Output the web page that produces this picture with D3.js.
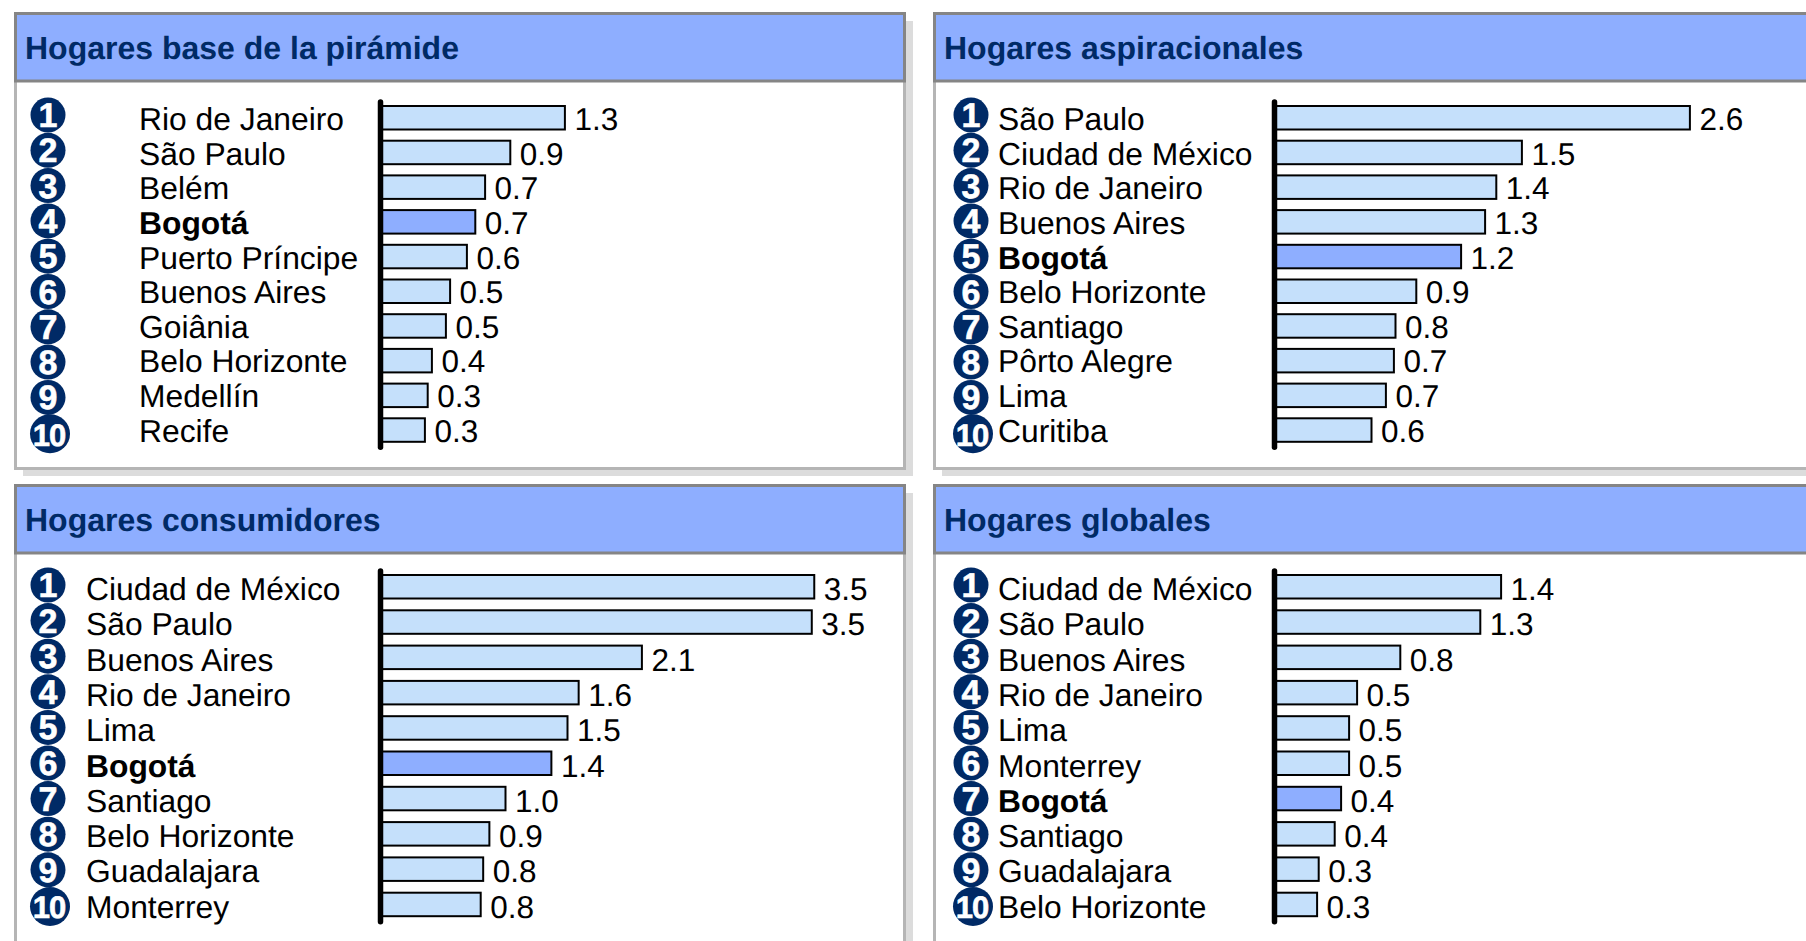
<!DOCTYPE html>
<html><head><meta charset="utf-8">
<script src="https://cdn.jsdelivr.net/npm/d3@7/dist/d3.min.js"></script>
<style>html,body{margin:0;padding:0;background:#fff;overflow:hidden}svg{display:block;font-family:"Liberation Sans",Arial,sans-serif;text-rendering:geometricPrecision}</style>
</head><body><svg id="c" width="1806" height="941"></svg>
<script>
const titleBase="Hogares base de la pirámide", citiesBase=["Rio de Janeiro","São Paulo","Belém","Bogotá","Puerto Príncipe","Buenos Aires","Goiânia","Belo Horizonte","Medellín","Recife"], valuesBase=[1.31,0.92,0.74,0.67,0.61,0.49,0.46,0.36,0.33,0.31];
const titleAsp="Hogares aspiracionales", citiesAsp=["São Paulo","Ciudad de México","Rio de Janeiro","Buenos Aires","Bogotá","Belo Horizonte","Santiago","Pôrto Alegre","Lima","Curitiba"], valuesAsp=[2.59,1.54,1.38,1.31,1.16,0.88,0.75,0.74,0.69,0.60];
const titleCon="Hogares consumidores", citiesCon=["Ciudad de México","São Paulo","Buenos Aires","Rio de Janeiro","Lima","Bogotá","Santiago","Belo Horizonte","Guadalajara","Monterrey"], valuesCon=[3.49,3.47,2.10,1.59,1.50,1.37,1.00,0.87,0.82,0.80];
const titleGlo="Hogares globales", citiesGlo=["Ciudad de México","São Paulo","Buenos Aires","Rio de Janeiro","Lima","Monterrey","Bogotá","Santiago","Guadalajara","Belo Horizonte"], valuesGlo=[1.41,1.28,0.78,0.51,0.46,0.46,0.41,0.37,0.27,0.26];
const highlight="Bogotá";

const layouts=[
 {t:titleBase,c:citiesBase,v:valuesBase,left:14,top:12,w:892,h:458,lx:139,ax:380.5,perUnit:140,rowTop:105,rowStep:34.7,baseTop:130.2,baseStep:34.6,circTop:115,circStep:35.3,cx:48},
 {t:titleAsp,c:citiesAsp,v:valuesAsp,left:933,top:12,w:960,h:458,lx:998,ax:1274.5,perUnit:160,rowTop:105,rowStep:34.7,baseTop:130.2,baseStep:34.6,circTop:115,circStep:35.3,cx:971},
 {t:titleCon,c:citiesCon,v:valuesCon,left:14,top:484,w:892,h:500,lx:86,ax:380.5,perUnit:124,rowTop:574,rowStep:35.3,baseTop:600,baseStep:35.3,circTop:585,circStep:35.6,cx:48},
 {t:titleGlo,c:citiesGlo,v:valuesGlo,left:933,top:484,w:960,h:500,lx:998,ax:1274.5,perUnit:160,rowTop:574,rowStep:35.3,baseTop:600,baseStep:35.3,circTop:585,circStep:35.6,cx:971}
];
const svg=d3.select("#c");
layouts.forEach(p=>{
 const g=svg.append("g");
 g.append("rect").attr("x",p.left+9).attr("y",p.top+9).attr("width",p.w-2).attr("height",p.h-3).attr("fill","#dcdcdc");
 g.append("rect").attr("x",p.left+1.5).attr("y",p.top+1.5).attr("width",p.w-3).attr("height",p.h-3).attr("fill","#fff").attr("stroke","#b5b5b5").attr("stroke-width",3);
 g.append("rect").attr("x",p.left+1.5).attr("y",p.top+1.5).attr("width",p.w-3).attr("height",67.5).attr("fill","#8eaeff").attr("stroke","#858585").attr("stroke-width",3);
 g.append("text").attr("x",p.left+11).attr("y",p.top+47).attr("font-size",32).attr("font-weight","bold").attr("fill","#002a66").text(p.t);

 const idx=d3.range(p.c.length);
 const y=d3.scaleLinear().domain([0,9]).range([p.rowTop,p.rowTop+9*p.rowStep]);
 const yb=d3.scaleLinear().domain([0,9]).range([p.baseTop,p.baseTop+9*p.baseStep]);
 const yc=d3.scaleLinear().domain([0,9]).range([p.circTop,p.circTop+9*p.circStep]);
 const x=d3.scaleLinear().domain([0,1]).range([p.ax+1,p.ax+1+p.perUnit]);

 g.selectAll(".bar").data(idx).join("rect").attr("class","bar")
  .attr("x",x(0)).attr("y",i=>y(i)+1).attr("height",23.5)
  .attr("width",i=>x(p.v[i])-x(0))
  .attr("fill",i=>p.c[i]===highlight?"#8eaeff":"#c5e0fb").attr("stroke","#000").attr("stroke-width",2);

 g.append("line").attr("x1",p.ax).attr("x2",p.ax).attr("y1",y(0)-3).attr("y2",y(9)+30)
  .attr("stroke","#000").attr("stroke-width",5.5).attr("stroke-linecap","round");

 g.selectAll(".val").data(idx).join("text").attr("class","val")
  .attr("x",i=>x(p.v[i])+9.5).attr("y",i=>yb(i)).attr("font-size",31.5).attr("fill","#000")
  .text(i=>p.v[i].toFixed(1));
 g.selectAll(".city").data(idx).join("text").attr("class","city")
  .attr("x",p.lx).attr("y",i=>yb(i)).attr("font-size",31.8).attr("fill","#000")
  .attr("font-weight",i=>p.c[i]===highlight?"bold":"normal").text(i=>p.c[i]);

 g.selectAll(".dot").data(idx).join("ellipse").attr("class","dot")
  .attr("cx",i=>p.cx+(i===9?2:0)).attr("cy",i=>yc(i)+(i===9?1:0))
  .attr("rx",i=>i===9?20:17.5).attr("ry",i=>i===9?19.5:17.5).attr("fill","#002a66");
 g.selectAll(".num").data(idx).join("text").attr("class","num")
  .attr("x",i=>p.cx+(i===9?1:0)).attr("y",i=>yc(i)+12+(i===9?1:0)).attr("text-anchor","middle")
  .attr("font-size",i=>i===9?31:34).attr("font-weight","bold").attr("fill","#fff").attr("stroke","#fff").attr("stroke-width",0.6)
  .attr("letter-spacing",i=>i===9?-1:0).text(i=>i+1);
});
</script></body></html>
